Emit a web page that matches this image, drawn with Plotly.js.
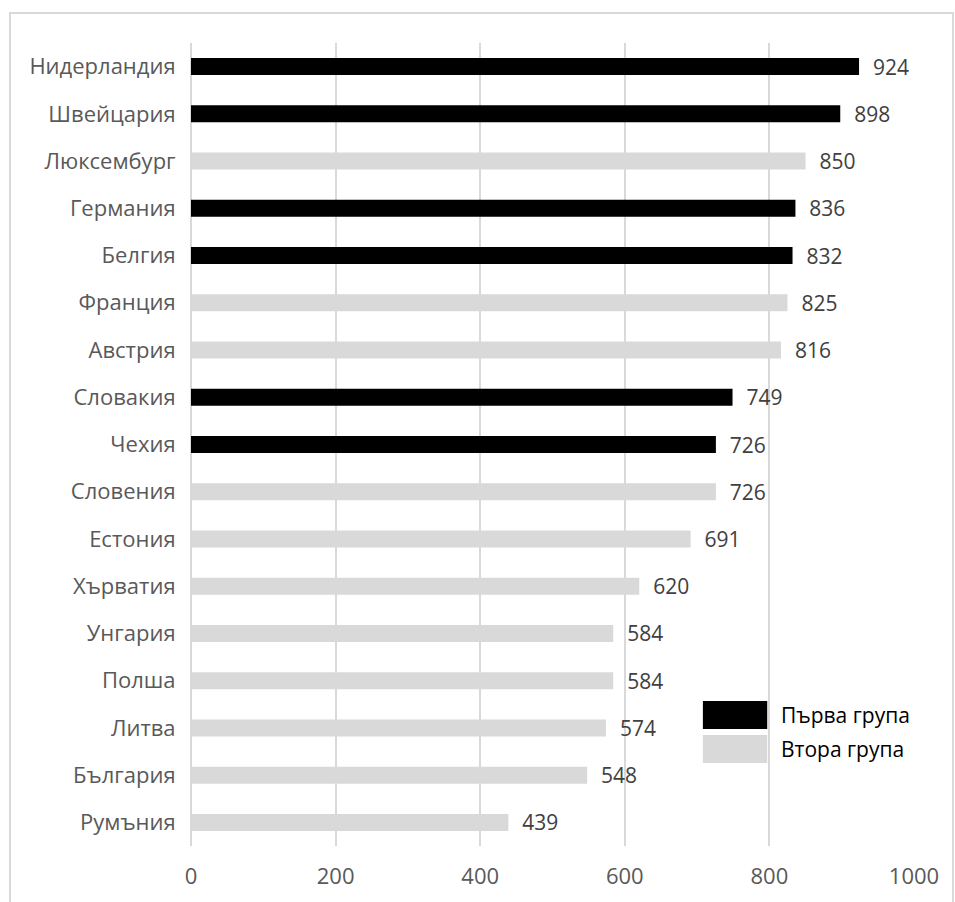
<!DOCTYPE html>
<html>
<head>
<meta charset="utf-8">
<script src="https://cdn.plot.ly/plotly-3.0.1.min.js"></script>
<style>html,body{margin:0;padding:0;background:#fff;}</style>
</head>
<body>
<div id="chart" style="width:955px;height:902px;"></div>
<script>
// Categories top-to-bottom
const countries = ["Нидерландия","Швейцария","Люксембург","Германия","Белгия","Франция","Австрия","Словакия","Чехия","Словения","Естония","Хърватия","Унгария","Полша","Литва","България","Румъния"];
const values = [924, 898, 850, 836, 832, 825, 816, 749, 726, 726, 691, 620, 584, 584, 574, 548, 439];
const groups = [1, 1, 2, 1, 1, 2, 2, 1, 1, 2, 2, 2, 2, 2, 2, 2, 2];
const groupNames = ["Първа група", "Втора група"];
const groupColors = ["#000000", "#d9d9d9"];
const xTicks = [0, 200, 400, 600, 800, 1000];

const font = "'Open Sans', 'Noto Sans', sans-serif";

const traces = [1, 2].map(g => {
  const y = [], x = [];
  countries.forEach((c, i) => { if (groups[i] === g) { y.push(c); x.push(values[i]); } });
  return {
    type: 'bar', orientation: 'h', name: groupNames[g - 1],
    y: y, x: x,
    marker: {color: groupColors[g - 1]},
    text: x.map(v => '\u00a0\u00a0' + v),
    textposition: 'outside',
    constraintext: 'none',
    textfont: {family: font, size: 21, color: '#404040'},
    cliponaxis: false,
    hoverinfo: 'x+y'
  };
});

const shapes = [
  {type: 'rect', xref: 'paper', yref: 'paper', x0: -0.2503, x1: 1.054, y0: -0.08, y1: 1.0374,
   line: {color: '#d9d9d9', width: 2}, fillcolor: 'rgba(0,0,0,0)', layer: 'below'},
  {type: 'rect', xref: 'paper', yref: 'paper', x0: 0.708, x1: 0.797, y0: 0.1457, y1: 0.1806,
   line: {width: 0}, fillcolor: groupColors[0]},
  {type: 'rect', xref: 'paper', yref: 'paper', x0: 0.708, x1: 0.797, y0: 0.1034, y1: 0.1382,
   line: {width: 0}, fillcolor: groupColors[1]}
];

const annotations = [
  {xref: 'paper', yref: 'paper', x: 0.8105, y: 0.1631, xanchor: 'left', yanchor: 'middle', xshift: 2,
   text: groupNames[0], showarrow: false, font: {family: font, size: 21, color: '#000000'}},
  {xref: 'paper', yref: 'paper', x: 0.8105, y: 0.1208, xanchor: 'left', yanchor: 'middle', xshift: 2,
   text: groupNames[1], showarrow: false, font: {family: font, size: 21, color: '#000000'}}
];

const layout = {
  width: 955, height: 902,
  margin: {l: 191, r: 41, t: 43, b: 56},
  paper_bgcolor: '#ffffff', plot_bgcolor: '#ffffff',
  barmode: 'overlay', bargap: 0.64,
  showlegend: false,
  font: {family: font, color: '#595959'},
  xaxis: {
    range: [0, 1000], tickvals: xTicks, ticktext: xTicks.map(String),
    showgrid: true, gridcolor: '#d9d9d9', gridwidth: 2,
    zeroline: true, zerolinecolor: '#d9d9d9', zerolinewidth: 2,
    showline: false, ticks: 'outside', ticklen: 11, tickcolor: 'rgba(0,0,0,0)',
    tickfont: {family: font, size: 22, color: '#595959'}, fixedrange: true
  },
  yaxis: {
    type: 'category', categoryorder: 'array', categoryarray: countries,
    autorange: 'reversed', showgrid: false, zeroline: false, showline: false,
    ticks: 'outside', ticklen: 10, tickcolor: 'rgba(0,0,0,0)',
    tickfont: {family: font, size: 22, color: '#595959'}, fixedrange: true
  },
  shapes: shapes,
  annotations: annotations
};

Plotly.newPlot('chart', traces, layout, {displayModeBar: false, staticPlot: true});
</script>
</body>
</html>
